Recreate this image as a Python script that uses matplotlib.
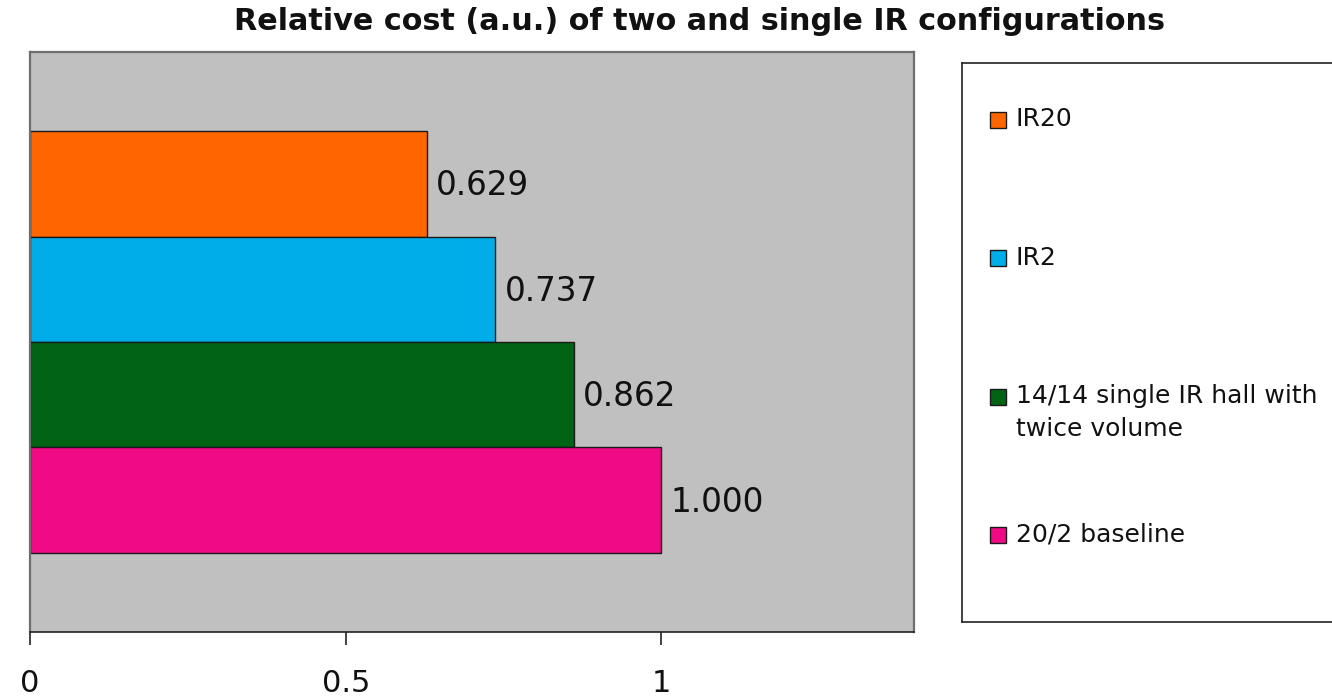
import matplotlib
matplotlib.use("Agg")
import matplotlib.pyplot as plt
from matplotlib.patches import Rectangle

plt.rcParams['font.family'] = ['DejaVu Sans']

# Series listed top to bottom as they appear in the chart
series = ["IR20", "IR2", "14/14 single IR hall with\ntwice volume", "20/2 baseline"]
values = [0.629, 0.737, 0.862, 1.000]
colors = ["#FF6600", "#00ADE8", "#006414", "#F00A84"]
xticks = [0, 0.5, 1]
xtick_labels = ["0", "0.5", "1"]
title = "Relative cost (a.u.) of two and single IR configurations"

W, H = 1332, 700
fig = plt.figure(figsize=(W / 100, H / 100), dpi=100)

# Plot area
ax = fig.add_axes([30 / W, 1 - 632 / H, (914 - 30) / W, (632 - 52) / H])
ax.set_facecolor("#C0C0C0")
ax.set_xlim(0, 1.4)
ax.set_ylim(-0.5, 0.5)

n = len(values)
gap = 1.5  # gap width relative to one bar
bar_h = 1.0 / (n + gap)
for i, (v, c) in enumerate(zip(values, colors)):
    y = (1.5 - i) * bar_h
    ax.barh(y, v, height=bar_h, color=c, edgecolor="#1a1a1a", linewidth=1.0)
    ax.annotate(f"{v:.3f}", xy=(v, y), xytext=(6.5, -1.5), textcoords="offset points",
                ha="left", va="center", fontsize=23.5, color="#111111")

for s in ["top", "right", "left"]:
    ax.spines[s].set_color("#6e6e6e")
    ax.spines[s].set_linewidth(1.6)
ax.spines["bottom"].set_color("#222222")
ax.spines["bottom"].set_linewidth(1.2)
ax.set_yticks([])
ax.set_xticks(xticks)
ax.set_xticklabels(xtick_labels, fontsize=22)
ax.tick_params(axis="x", direction="out", length=9.4, width=1.2, color="#222222",
               pad=17.5, labelcolor="#111111")

fig.text(700 / W, 1 - 22 / H, title, ha="center", va="center",
         fontsize=21.8, fontweight="bold", color="#111111")

# Legend panel
lg = fig.add_axes([962 / W, 1 - 622 / H, (1400 - 962) / W, (622 - 63) / H])
lg.set_xlim(962, 1400)
lg.set_ylim(622, 63)
lg.set_xticks([])
lg.set_yticks([])
for s in lg.spines.values():
    s.set_color("#222222")
    s.set_linewidth(1.2)

first_y = 119.5
step = 138.5
for i, (lab, c) in enumerate(zip(series, colors)):
    yc = first_y + i * step
    lg.add_patch(Rectangle((990, yc - 8), 16, 16, facecolor=c,
                           edgecolor="#1a1a1a", linewidth=1.0))
    for j, line in enumerate(lab.split("\n")):
        lg.text(1016, yc + j * 32, line, ha="left", va="center",
                fontsize=18, color="#111111")

fig.savefig("out.png", dpi=100, facecolor="white")
